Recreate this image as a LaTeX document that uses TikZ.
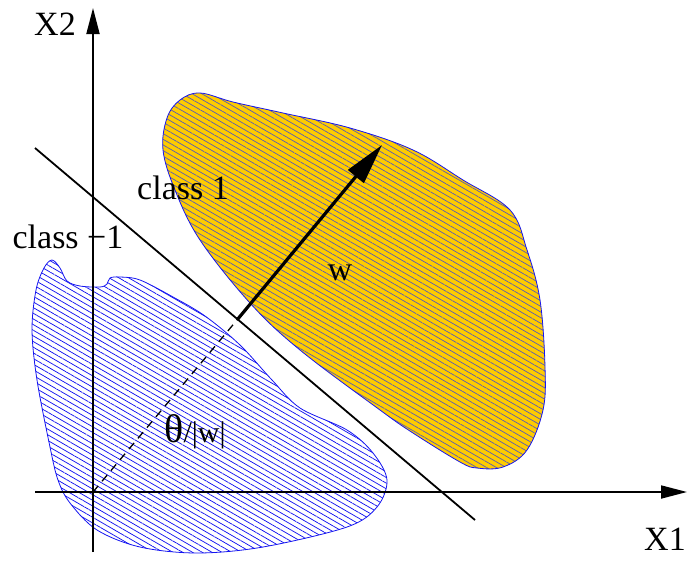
\documentclass[tikz,border=0pt]{standalone}
\usepackage{fontspec}
\setmainfont{Liberation Serif}
\usetikzlibrary{arrows.meta,patterns.meta,positioning}
\definecolor{ClassGold}{RGB}{255,204,0}
\definecolor{ClassBlue}{RGB}{20,20,240}
\definecolor{HatchGrey}{RGB}{95,95,175}
\newcommand{\lblsize}{\rmfamily\fontsize{34}{40}\selectfont}

\begin{document}
\begin{tikzpicture}[x=1pt, y=-1pt,
    lbl/.style={font=\lblsize, inner sep=0pt, anchor=base},
    axis/.style={line width=1.8pt, -{Triangle[length=26pt,width=13pt]}},
    hatch/.style={pattern={Lines[angle=-30,distance=4.9pt,line width=0.75pt]}}]
    \useasboundingbox (0,0) rectangle (687,560);

    % class 1 region
    \draw[ClassBlue, line width=0.8pt, preaction={fill=ClassGold}, hatch, pattern color=HatchGrey]
      plot[smooth cycle, tension=0.6] coordinates {
        (163,150) (167,118) (180,100) (200,93) (233,102) (283,113) (350,128)
        (413,150) (463,180) (510,210) (527,250) (540,300) (545,367) (543,410)
        (527,450) (503,467) (477,468) (460,462) (413,433) (380,410) (300,350)
        (250,303) (200,240) (175,190)};

    % class -1 region
    \draw[ClassBlue, line width=0.8pt, hatch, pattern color=ClassBlue]
      plot[smooth cycle, tension=0.55] coordinates {
        (52,260) (60,268) (67,281) (80,286) (100,287) (107,284) (110,278)
        (120,277) (140,280) (173,297) (205,316) (240,345) (272,380) (300,408)
        (347,430) (373,453) (387,480) (377,507) (347,527) (263,547) (197,553)
        (140,547) (97,530) (70,503) (58,480) (50,447) (37,380) (32,330)
        (36,290) (44,268)};

    \coordinate (O) at (93,492);
    \coordinate (xstart) at (35,492);
    \coordinate (xtip) at (687,492);
    \coordinate (ystart) at (93,552);
    \coordinate (ytip) at (93,8);
    \coordinate (lstart) at (35,148);
    \coordinate (lend) at (475,520);
    \coordinate (foot) at (237,320);
    \coordinate (wtip) at (382,145);

    \draw[axis] (xstart) -- (xtip);
    \draw[axis] (ystart) -- (ytip);
    \draw[line width=1.8pt] (lstart) -- (lend);
    \draw[line width=1.3pt, dash pattern=on 8pt off 6pt] (O) -- (foot);
    \draw[line width=3.2pt, -{Triangle[length=41pt,width=20pt]}] (foot) -- (wtip);

    \node[lbl] (xtwo) at (55,35) {X2};
    \node[lbl] (xone) at (665,550) {X1};
    \node[lbl] (cpos) at (183,199) {class 1};
    \node[lbl] (cneg) at (68,248) {class −1};
    \node[lbl] (wlbl) at (340,280) {w};
    \node[lbl] (theta) at (195,442) {{\fontsize{40}{40}\selectfont θ}{\fontsize{30}{36}\selectfont/|w|}};
  \end{tikzpicture}
\end{document}
